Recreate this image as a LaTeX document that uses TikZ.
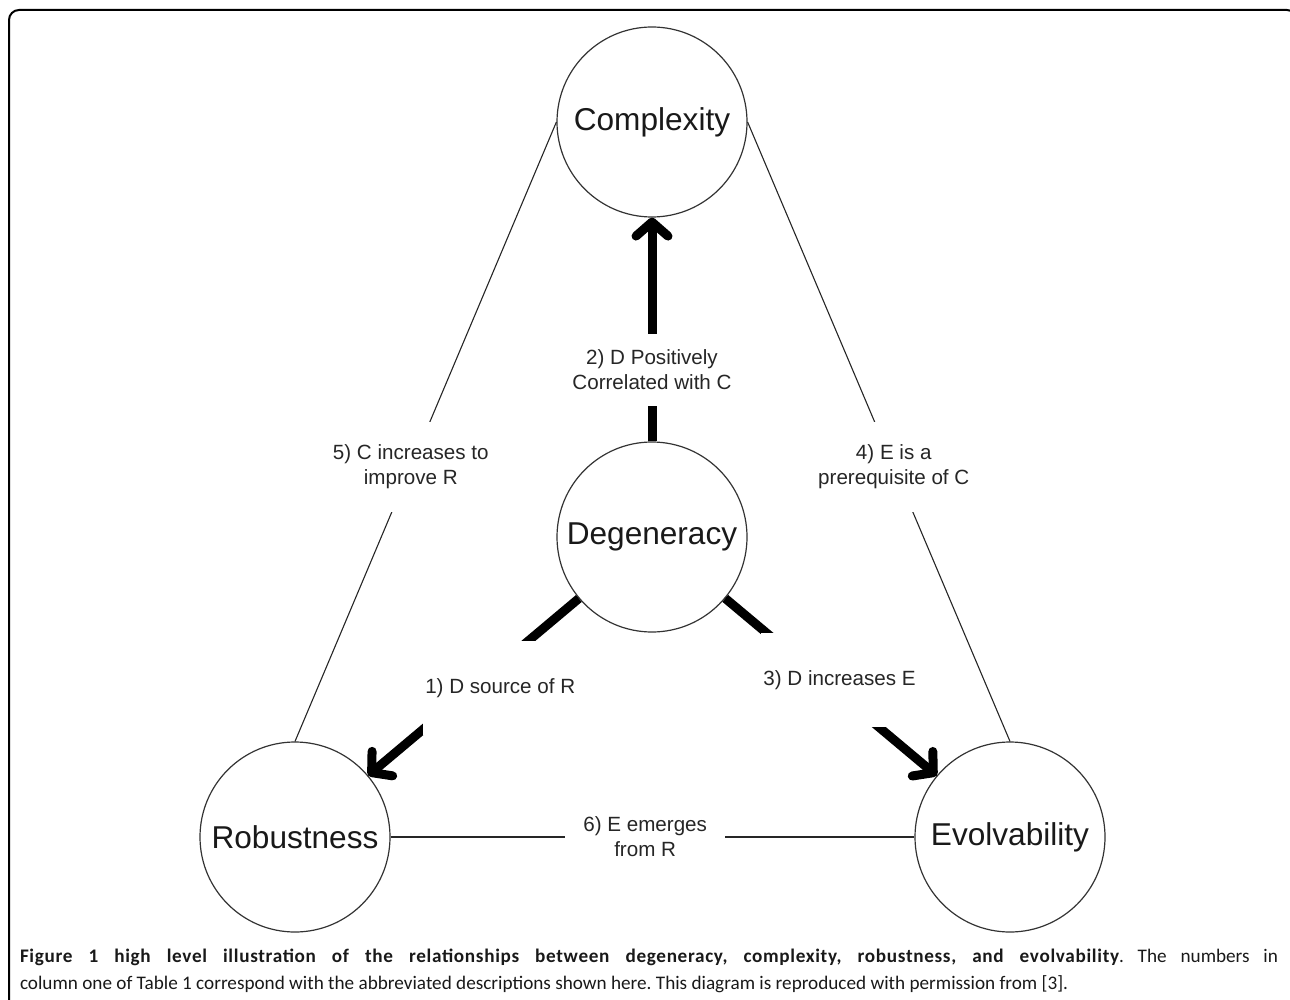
\documentclass[tikz,border=0pt]{standalone}
\usepackage{fontspec}
\setmainfont{Liberation Sans}
\newfontfamily\capfont[BoldFeatures={LetterSpace=3.5}]{Carlito}
\usepackage{tikz}
\usetikzlibrary{positioning,arrows.meta}
\frenchspacing

\begin{document}
\begin{tikzpicture}[x=0.5pt,y=-0.5pt,
  concept/.style={circle, draw=black!80, line width=0.6pt, minimum size=95pt, inner sep=0pt, text=black!90, font=\fontsize{15.8}{18}\selectfont},
  thinlink/.style={draw=black!85, line width=0.55pt},
  thicklink/.style={line width=4.5pt, -{Straight Barb[length=7pt, width=16pt, round]}},
  linklabel/.style={fill=white, align=center, inner xsep=1pt, text=black!85, font=\fontsize{10.3}{12.5}\selectfont}
]
\useasboundingbox (0,0) rectangle (1290,1000);
\begin{scope}
\clip (0,0) rectangle (1290,1000);
\draw[line width=1pt, rounded corners=5pt] (9,1010) -- (9,10) -- (1297,10) -- (1297,1010);
\end{scope}

\node[concept] (complexity) at (652,122) {Complexity};
\node[concept] (degeneracy) at (652,537) {Degeneracy};
\node[concept] (robustness) at (295,837) {Robustness};
\node[concept] (evolvability) at (1010,837) {Evolvability};

\draw[thinlink] (complexity.west) -- (robustness.north)
  node[linklabel, pos=0.557, inner ysep=11.5pt] (lbl5) {5) C increases to\\improve R};
\draw[thinlink] (complexity.east) -- (evolvability.north)
  node[linklabel, pos=0.557, inner ysep=11.5pt] (lbl4) {4) E is a\\prerequisite of C};
\draw[thinlink] (robustness.east) -- (evolvability.west)
  node[linklabel, pos=0.486, inner xsep=9pt] (lbl6) {6) E emerges\\from R};

\draw[thicklink] (degeneracy) -- (complexity)
  node[linklabel, pos=0.32, inner ysep=8pt] (lbl2) {2) D Positively\\Correlated with C};
\draw[thicklink] (degeneracy) -- (robustness)
  node[linklabel, pos=0.506, xshift=14pt, inner ysep=18.5pt] (lbl1) {1) D source of R};
\draw[thicklink] (degeneracy) -- (evolvability)
  node[linklabel, pos=0.46, xshift=8.5pt, inner ysep=18.5pt] (lbl3) {3) D increases E};

\node[text width=629pt, align=justify, inner sep=0pt, text=black!90,
  font=\capfont\fontsize{9.6}{13.5}\selectfont] (caption) at (649,971)
  {\textbf{Figure 1 high level illustration of the relationships between degeneracy, complexity, robustness, and evolvability}. The numbers in\linebreak column one of Table 1 correspond with the abbreviated descriptions shown here. This diagram is reproduced with permission from [3].};
\end{tikzpicture}
\end{document}
